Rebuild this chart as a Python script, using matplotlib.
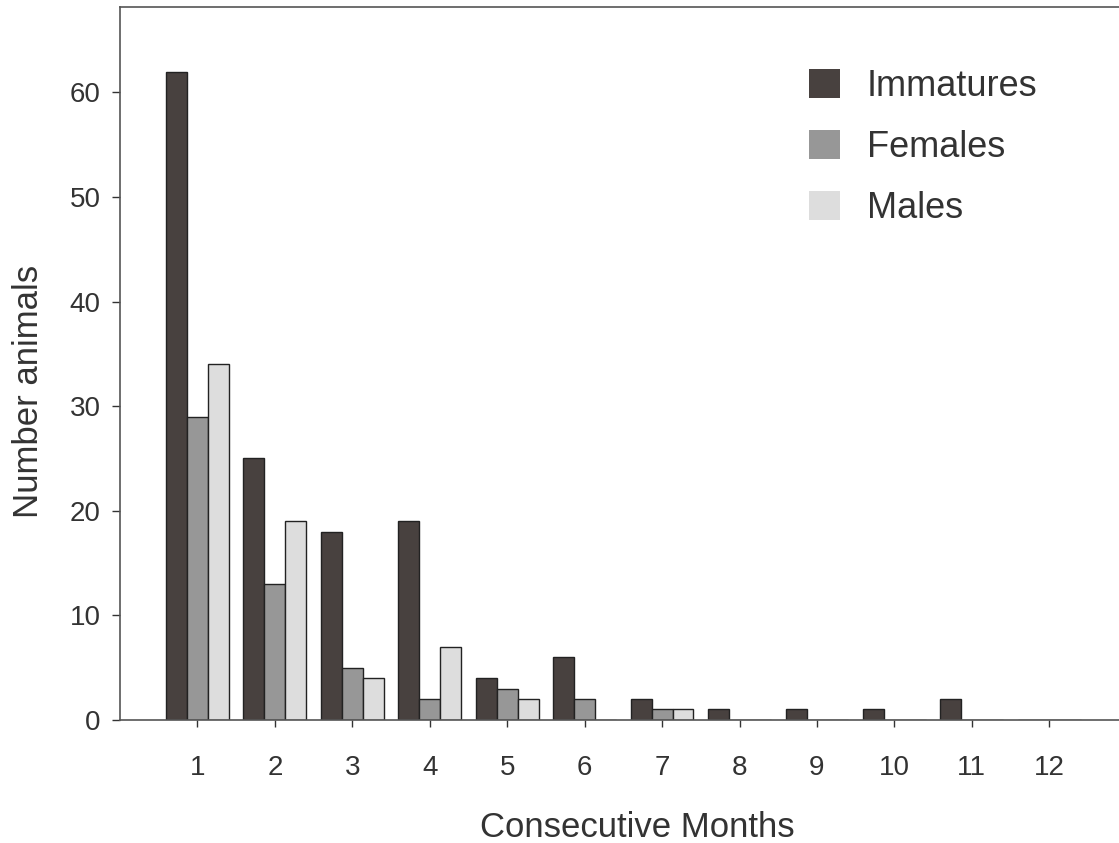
import numpy as np
import matplotlib
matplotlib.use('Agg')
from matplotlib import pyplot as plt

plt.rcParams['font.family'] = ['Liberation Sans', 'DejaVu Sans']

# data
months = [1, 2, 3, 4, 5, 6, 7, 8, 9, 10, 11, 12]
immatures = [62, 25, 18, 19, 4, 6, 2, 1, 1, 1, 2, 0]
females = [29, 13, 5, 2, 3, 2, 1, 0, 0, 0, 0, 0]
males = [34, 19, 4, 7, 2, 0, 1, 0, 0, 0, 0, 0]

x = np.array(months)
w = 0.27

fig = plt.figure(figsize=(11.19, 8.43), dpi=100)
ax = fig.add_axes([0.1072, 0.146, 0.8928, 0.846])

ax.bar(x - w, immatures, w, color='#48413f', edgecolor='#222222', linewidth=1, label='Immatures')
ax.bar(x, females, w, color='#979797', edgecolor='#222222', linewidth=1, label='Females')
ax.bar(x + w, males, w, color='#dddddd', edgecolor='#222222', linewidth=1, label='Males')

ax.set_xlim(0, 12.9)
ax.set_ylim(0, 68.2)
ax.set_xticks(months)
ax.set_yticks([0, 10, 20, 30, 40, 50, 60])
ax.tick_params(axis='both', labelsize=20, colors='#333333', length=6, width=1)
ax.tick_params(axis='x', length=5, pad=20)
ax.tick_params(axis='y', pad=8)

for s in ['left', 'top', 'bottom']:
    ax.spines[s].set_color('#555555')
    ax.spines[s].set_linewidth(1.2)
ax.spines['right'].set_visible(False)

ax.set_xlabel('Consecutive Months', fontsize=25, color='#333333')
ax.set_ylabel('Number animals', fontsize=25, color='#333333')
ax.xaxis.set_label_coords(0.5175, -0.128)
ax.yaxis.set_label_coords(-0.075, 0.46)

leg = ax.legend(loc='upper left', bbox_to_anchor=(0.657, 0.958), frameon=False,
                fontsize=26, handlelength=0.85, handleheight=0.85, labelspacing=0.72,
                handletextpad=0.75)
for t in leg.get_texts():
    t.set_color('#333333')
for h in leg.legend_handles:
    h.set_linewidth(0)

fig.savefig('out.png', dpi=100)
